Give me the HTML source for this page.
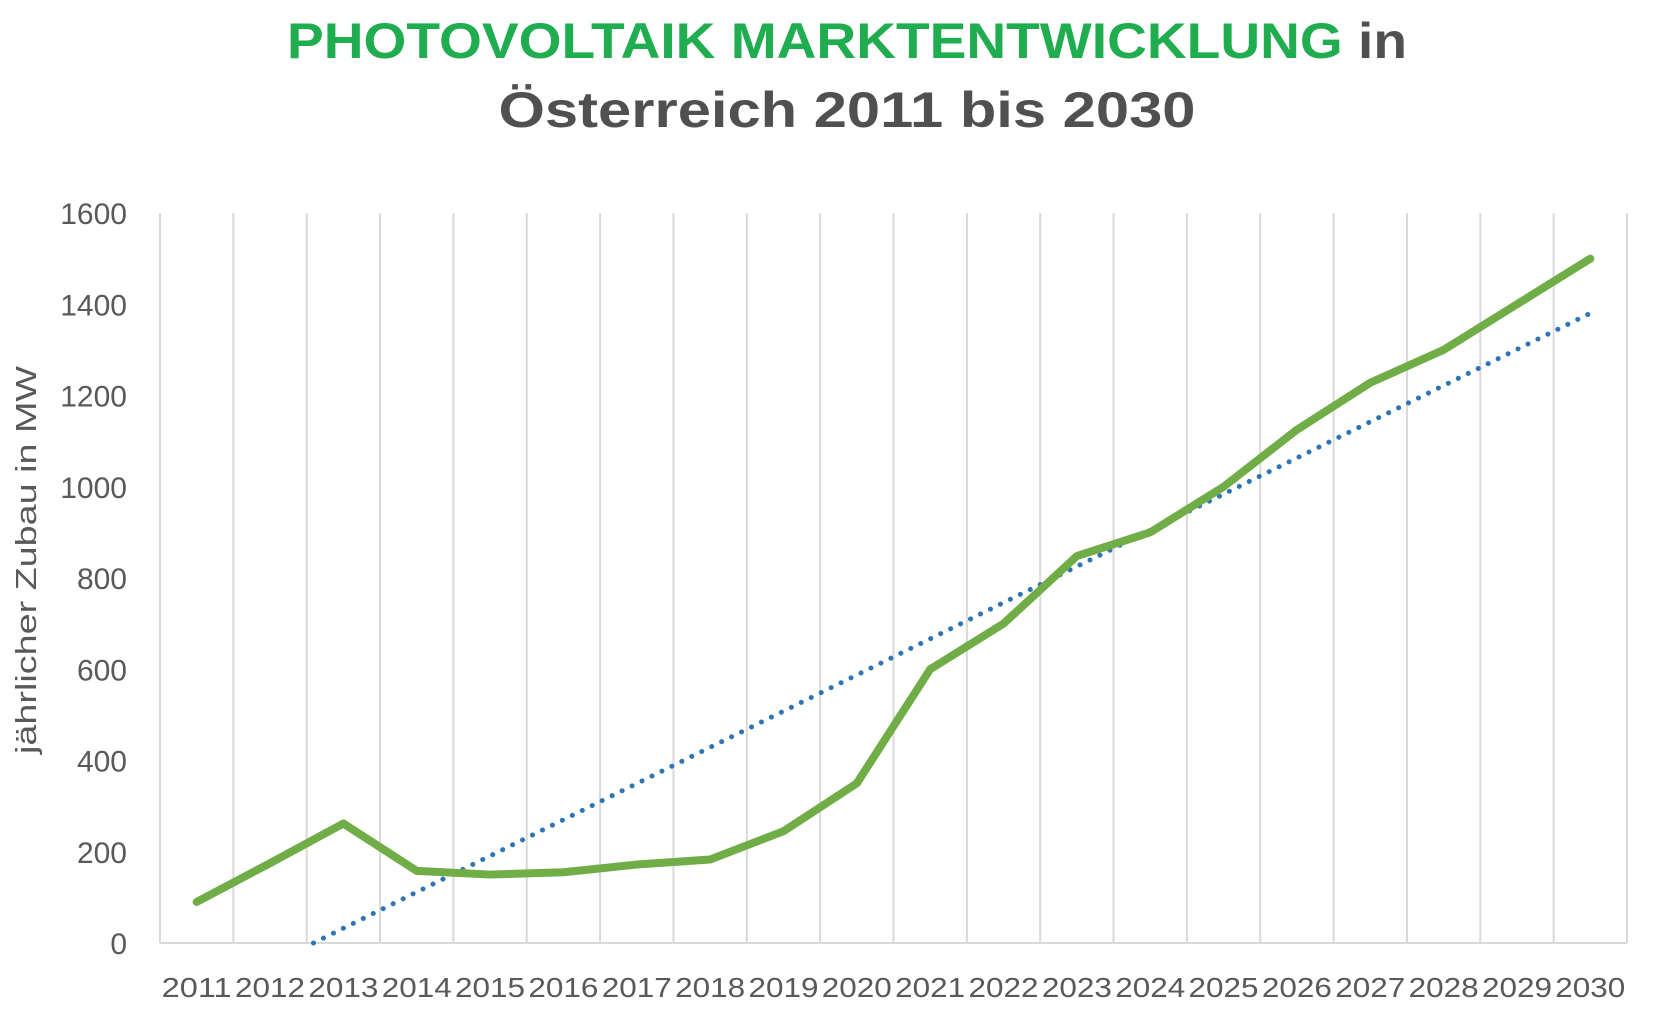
<!DOCTYPE html>
<html><head><meta charset="utf-8"><style>
html,body{margin:0;padding:0;background:#fff;}
svg{display:block;font-family:"Liberation Sans",sans-serif;}
</style></head><body>
<svg id="chart" width="1669" height="1026" viewBox="0 0 1669 1026">
<g font-weight="bold">
<text x="847" y="58" text-anchor="middle" font-size="50" textLength="1120" lengthAdjust="spacingAndGlyphs"><tspan fill="#1fad4f">PHOTOVOLTAIK MARKTENTWICKLUNG</tspan><tspan fill="#505050"> in</tspan></text>
<text x="847" y="127" text-anchor="middle" font-size="50" fill="#505050" textLength="697" lengthAdjust="spacingAndGlyphs">Österreich 2011 bis 2030</text>
</g>
<g id="grid"></g><g id="axes"></g><g id="series"></g>
<text transform="translate(36,560) rotate(-90)" text-anchor="middle" font-size="29" fill="#595959" textLength="388" lengthAdjust="spacingAndGlyphs">jährlicher Zubau in MW</text>
</svg>
<script>
const categories=["2011","2012","2013","2014","2015","2016","2017","2018","2019","2020","2021","2022","2023","2024","2025","2026","2027","2028","2029","2030"];
const zubau=[90,175,262,158,150,155,172,183,245,350,600,700,848,900,1000,1125,1228,1300,1400,1500];
const yTicks=[0,200,400,600,800,1000,1200,1400,1600];
const NS="http://www.w3.org/2000/svg";
const L=160,R=1627,T=213,B=943,YMAX=1600;
const band=(R-L)/categories.length;
const x=i=>L+band*(i+0.5);
const y=v=>B-(v/YMAX)*(B-T);
function mk(tag,attrs,parent){const e=document.createElementNS(NS,tag);for(const k in attrs)e.setAttribute(k,attrs[k]);parent.appendChild(e);return e;}
const grid=document.getElementById('grid'),axes=document.getElementById('axes'),series=document.getElementById('series');
for(let i=0;i<=categories.length;i++){
  const gx=L+band*i;
  const g=mk('line',{x1:gx,x2:gx,y1:T,y2:B,stroke:'#d9d9d9','stroke-width':2},grid);
  
  
}
const base=mk('line',{x1:L,x2:R,y1:B,y2:B,stroke:'#d9d9d9','stroke-width':2},axes);


yTicks.forEach(v=>{
  const t=mk('text',{x:127,y:y(v)+11,'text-anchor':'end','font-size':30,fill:'#595959'},axes);
  t.textContent=v;
  
  
});
categories.forEach((c,i)=>{
  const t=mk('text',{x:x(i),y:997,'text-anchor':'middle','font-size':28,fill:'#595959',textLength:70,lengthAdjust:'spacingAndGlyphs'},axes);
  t.textContent=c;
  
  
});
const n=zubau.length;let sx=0,sy=0,sxy=0,sxx=0;
zubau.forEach((v,i)=>{sx+=i;sy+=v;sxy+=i*v;sxx+=i*i;});
const m=(n*sxy-sx*sy)/(n*sxx-sx*sx),b0=(sy-m*sx)/n;
const i0=Math.max(0,-b0/m),i1=n-1;
const tr=mk('line',{x1:x(i0),y1:y(b0+m*i0),x2:x(i1),y2:y(b0+m*i1),stroke:'#2e75b6','stroke-width':5,'stroke-dasharray':'0.1 11','stroke-linecap':'round'},series);


const pl=mk('polyline',{points:zubau.map((v,i)=>x(i)+','+y(v)).join(' '),fill:'none',stroke:'#70ad47','stroke-width':8,'stroke-linejoin':'round','stroke-linecap':'round'},series);


</script>
</body></html>
